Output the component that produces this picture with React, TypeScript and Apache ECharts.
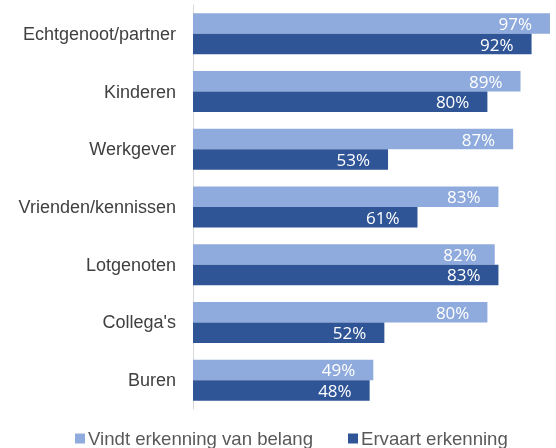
import React, { useEffect, useRef } from "react";
import * as echarts from "echarts";

const categories = [
  "Echtgenoot/partner",
  "Kinderen",
  "Werkgever",
  "Vrienden/kennissen",
  "Lotgenoten",
  "Collega's",
  "Buren",
];
const seriesNames = ["Vindt erkenning van belang", "Ervaart erkenning"];
const belang = [97, 89, 87, 83, 82, 80, 49];
const ervaart = [92, 80, 53, 61, 83, 52, 48];

export default function App() {
  const ref = useRef<HTMLDivElement>(null);
  useEffect(() => {
    if (!ref.current) return;
    const chart = echarts.init(ref.current, undefined, { renderer: "svg" });
    const label = {
      show: true,
      position: "insideRight",
      distance: 18,
      color: "#ffffff",
      fontFamily: "Open Sans",
      fontSize: 17,
      formatter: (p: any) => p.value + "%",
    };
    chart.setOption({
      animation: false,
      textStyle: { fontFamily: "Liberation Sans" },
      grid: {
        left: 193,
        top: 5,
        width: 368,
        height: 404,
        containLabel: false,
        outerBoundsMode: "none",
      },
      xAxis: {
        type: "value",
        min: 0,
        max: 100,
        show: false,
        splitLine: { show: false },
      },
      yAxis: {
        type: "category",
        data: categories,
        inverse: true,
        axisTick: { show: false },
        axisLine: { show: true, lineStyle: { color: "#D9D9D9", width: 1 } },
        axisLabel: {
          color: "#404040",
          fontSize: 18,
          margin: 17,
          fontFamily: "Liberation Sans",
        },
      },
      legend: {
        top: 424,
        left: 70,
        icon: "rect",
        itemWidth: 10,
        itemHeight: 10,
        itemGap: 35,
        textStyle: {
          color: "#595959",
          fontSize: 18.6,
          fontFamily: "Liberation Sans",
          padding: [0, 0, 0, -2],
        },
        data: seriesNames,
      },
      series: [
        {
          name: seriesNames[0],
          type: "bar",
          data: belang,
          itemStyle: { color: "#8FAADC" },
          barGap: "0%",
          barCategoryGap: "29%",
          label,
        },
        {
          name: seriesNames[1],
          type: "bar",
          data: ervaart,
          itemStyle: { color: "#2F5597" },
          barGap: "0%",
          barCategoryGap: "29%",
          label,
        },
      ],
    });
    return () => chart.dispose();
  }, []);
  return (
    <div style={{ position: "fixed", left: 0, top: 0 }}>
      <div ref={ref} style={{ width: 556, height: 448 }} />
    </div>
  );
}
